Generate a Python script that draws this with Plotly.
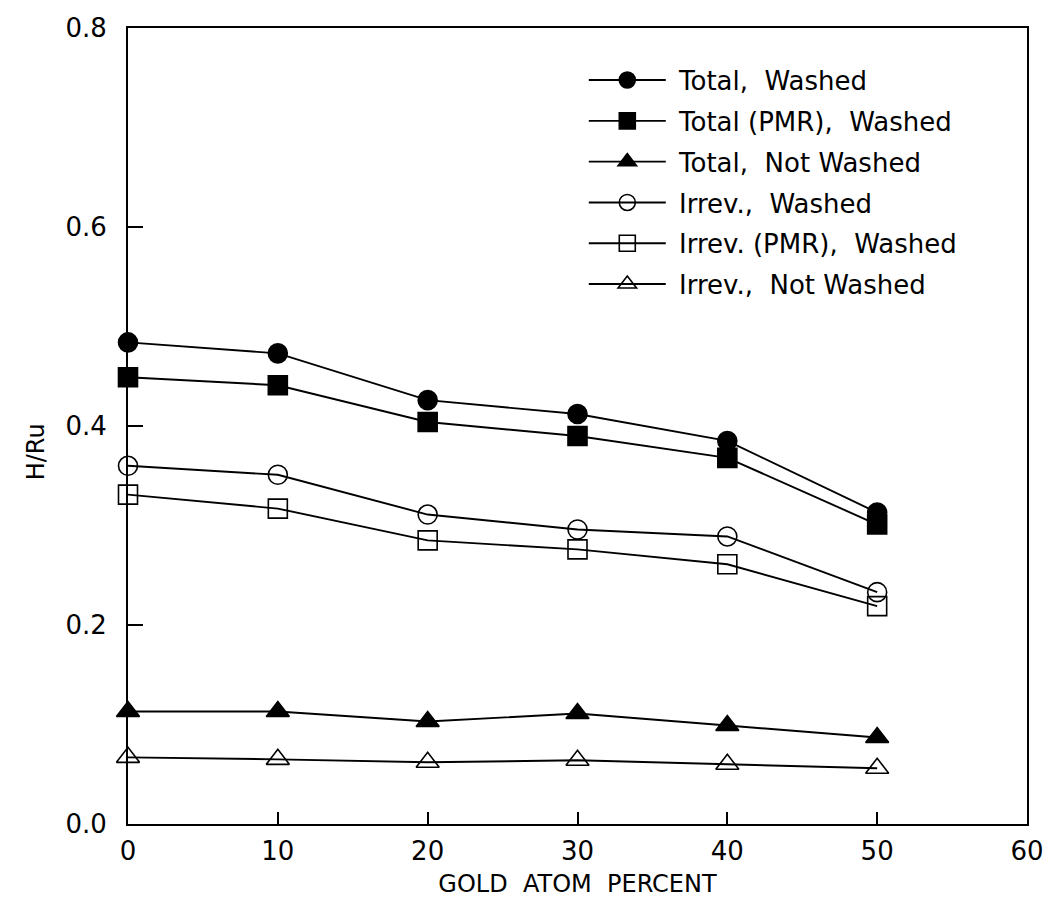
import plotly.graph_objects as go

gold_pct = [0, 10, 20, 30, 40, 50]
total_washed = [0.484, 0.473, 0.426, 0.412, 0.385, 0.313]
total_pmr_washed = [0.449, 0.441, 0.404, 0.390, 0.368, 0.301]
total_not_washed = [0.113, 0.113, 0.103, 0.111, 0.099, 0.087]
irrev_washed = [0.360, 0.351, 0.311, 0.296, 0.289, 0.233]
irrev_pmr_washed = [0.331, 0.317, 0.285, 0.276, 0.261, 0.219]
irrev_not_washed = [0.067, 0.065, 0.062, 0.064, 0.060, 0.056]

series_names = ["Total,  Washed", "Total (PMR),  Washed", "Total,  Not Washed",
                "Irrev.,  Washed", "Irrev. (PMR),  Washed", "Irrev.,  Not Washed"]
series_values = [total_washed, total_pmr_washed, total_not_washed,
                 irrev_washed, irrev_pmr_washed, irrev_not_washed]
symbols = ["circle", "square", "triangle-up", "circle-open", "square-open", "triangle-up-open"]

FONT = "DejaVu Sans"
fig = go.Figure()
for i, (name, vals, sym) in enumerate(zip(series_names, series_values, symbols)):
    fig.add_trace(go.Scatter(
        x=gold_pct, y=vals, name="\u00a0" + name, mode="lines+markers",
        line=dict(color="black", width=1.9),
        marker=dict(symbol=sym, size=19 if "triangle" not in sym else 20,
                    color="black", line=dict(color="black", width=1.6)),
        cliponaxis=False, legendgroup=f"g{i}",
    ))

fig.update_layout(
    width=1059, height=906,
    margin=dict(l=120, r=40, t=20, b=90, autoexpand=False),
    paper_bgcolor="white", plot_bgcolor="white",
    font=dict(family=FONT, color="black", size=26),
    showlegend=True,
    legend=dict(x=0.507, y=0.964, xanchor="left", yanchor="top",
                bgcolor="rgba(0,0,0,0)", font=dict(size=26, family=FONT),
                tracegroupgap=4, itemwidth=77),
    xaxis=dict(range=[0, 60], tickvals=[0, 10, 20, 30, 40, 50, 60],
               ticks="inside", ticklen=12, tickwidth=1.5, tickcolor="black",
               showline=True, linecolor="black", linewidth=2, mirror=True,
               showgrid=False, zeroline=False, ticklabelstandoff=3,
               automargin=False, tickfont=dict(size=26),
               title=dict(text="GOLD  ATOM  PERCENT", font=dict(size=24), standoff=10)),
    yaxis=dict(range=[0, 0.8], tickvals=[0, 0.2, 0.4, 0.6, 0.8], tickformat=".1f",
               ticks="inside", ticklen=15, tickwidth=1.5, tickcolor="black",
               showline=True, linecolor="black", linewidth=2, mirror=True,
               showgrid=False, zeroline=False, ticklabelstandoff=14,
               automargin=False, tickfont=dict(size=26)),
    annotations=[dict(text="H/Ru", textangle=-90, xref="paper", yref="paper",
                      x=0, y=0.467, xanchor="center", yanchor="middle",
                      xshift=-92, showarrow=False,
                      font=dict(size=24, family=FONT))],
)

fig.write_html("out.html")
